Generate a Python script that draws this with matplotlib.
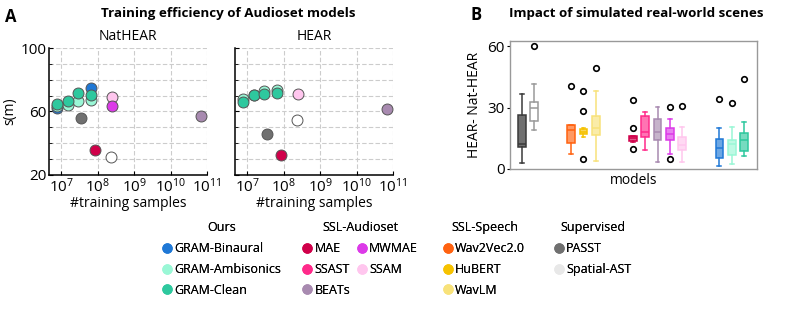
import numpy as np
import matplotlib
matplotlib.use("Agg")
import matplotlib.pyplot as plt
from matplotlib.lines import Line2D
from matplotlib.ticker import LogLocator, MultipleLocator, FixedLocator, NullFormatter

plt.rcParams["font.family"] = ["Open Sans", "DejaVu Sans"]

# ---- colours ----
COLORS = {
    "GRAM-Binaural": "#1f78d6",
    "GRAM-Ambisonics": "#9af7d6",
    "GRAM-Clean": "#2ec89e",
    "MAE": "#d0004a",
    "MWMAE": "#dc3ae8",
    "SSAST": "#ff2a8a",
    "SSAM": "#ffc6ee",
    "BEATs": "#a88ab0",
    "Wav2Vec2.0": "#ff6210",
    "HuBERT": "#f6c200",
    "WavLM": "#f8e27a",
    "PASST": "#707070",
    "Spatial-AST": "#e8e8e8",
}

# ---- panel A data: (#training samples, score) ----
gram_samples = [7.6e6, 1.5e7, 2.8e7, 6.5e7]
binaural_nat = [62.0, np.nan, np.nan, 75.0]
ambisonics_nat = [63.5, 64.2, 66.9, 67.3]
clean_nat = [64.6, 66.7, 71.5, 70.4]
binaural_hear = [np.nan, np.nan, np.nan, np.nan]
ambisonics_hear = [67.7, 70.6, 73.2, 73.6]
clean_hear = [66.2, 70.4, 70.9, 71.5]

other_models = ["PASST", "MAE", "SSAM", "MWMAE", "Spatial-AST", "BEATs"]
other_samples = [3.4e7, 8.5e7, 2.4e8, 2.4e8, 2.3e8, 7.0e10]
other_nat = [56.2, 35.8, 69.4, 63.7, 31.2, 57.2]
other_hear = [46.1, 32.9, 71.0, np.nan, 54.7, 61.4]

# ---- panel B data: HEAR - NatHEAR box statistics ----
box_models = ["PASST", "Spatial-AST", "Wav2Vec2.0", "HuBERT", "WavLM",
              "MAE", "SSAST", "BEATs", "MWMAE", "SSAM",
              "GRAM-Binaural", "GRAM-Ambisonics", "GRAM-Clean"]
box_pos = [1, 2, 5, 6, 7, 10, 11, 12, 13, 14, 17, 18, 19]
box_whislo = [2.9, 19.1, 7.3, 15.4, 3.7, 13.4, 9.4, 3.5, 7.3, 3.2, 1.6, 2.6, 6.5]
box_q1 = [10.7, 23.4, 12.9, 17.0, 16.5, 13.7, 15.5, 14.1, 14.1, 9.4, 5.3, 6.6, 9.0]
box_med = [12.3, 29.6, 19.1, 18.3, 20.2, 15.0, 17.9, 17.9, 17.0, 11.5, 10.2, 12.1, 14.1]
box_q3 = [26.2, 32.8, 21.7, 19.4, 25.7, 16.2, 25.9, 24.4, 19.9, 15.5, 14.6, 14.1, 17.8]
box_whishi = [36.7, 41.7, 21.7, 19.8, 38.2, 16.2, 28.0, 30.4, 24.3, 20.5, 20.0, 20.5, 23.1]
box_fliers = [[], [59.9], [40.4], [38.2, 28.2, 4.9], [49.3],
              [33.5, 20.0, 9.9], [], [], [30.1, 5.0], [31.0],
              [34.0], [32.0], [43.8]]

# ---- legend groups ----
legend_groups = [
    ("Ours", ["GRAM-Binaural", "GRAM-Ambisonics", "GRAM-Clean"], 1),
    ("SSL-Audioset", ["MAE", "SSAST", "BEATs", "MWMAE", "SSAM"], 2),
    ("SSL-Speech", ["Wav2Vec2.0", "HuBERT", "WavLM"], 1),
    ("Supervised", ["PASST", "Spatial-AST"], 1),
]
legend_x = [0.2055, 0.383, 0.5605, 0.7005]

fig = plt.figure(figsize=(7.92, 3.11), dpi=100)

W, H = 792, 311


def px_axes(x0, y0, x1, y1):
    return fig.add_axes([x0 / W, 1 - y1 / H, (x1 - x0) / W, (y1 - y0) / H])


ax_nat = px_axes(49, 48, 207, 175)
ax_hear = px_axes(235, 48, 393, 175)
ax_b = px_axes(510, 41, 757, 169)

edge = "#555555"
for ax, bin_y, amb_y, cln_y, oth_y, name in [
    (ax_nat, binaural_nat, ambisonics_nat, clean_nat, other_nat, "NatHEAR"),
    (ax_hear, binaural_hear, ambisonics_hear, clean_hear, other_hear, "HEAR"),
]:
    ax.set_xscale("log")
    ax.set_xlim(4.6e6, 1e11)
    ax.set_ylim(20, 100)
    ax.xaxis.set_major_locator(FixedLocator([1e7, 1e8, 1e9, 1e10, 1e11]))
    ax.xaxis.set_minor_locator(LogLocator(base=10, subs=np.arange(2, 10)))
    ax.xaxis.set_minor_formatter(NullFormatter())
    ax.yaxis.set_major_locator(FixedLocator([20, 60, 100]))
    ax.yaxis.set_minor_locator(MultipleLocator(10))
    ax.grid(True, which="major", axis="both", color="#cccccc", ls=(0, (4, 2)), lw=0.8)
    ax.grid(True, which="minor", axis="y", color="#cccccc", ls=(0, (4, 2)), lw=0.8)
    ax.grid(True, which="minor", axis="x", color="#cfcfcf", ls=(0, (1, 1.5)), lw=0.7)
    ax.set_axisbelow(True)
    for s in ("top", "right"):
        ax.spines[s].set_visible(False)
    ax.spines["left"].set_linewidth(1.1)
    ax.spines["bottom"].set_linewidth(1.1)
    ax.tick_params(which="both", direction="in", length=3, labelsize=11, pad=2)
    ax.tick_params(which="minor", length=2)
    ax.set_title(name, fontsize=10, pad=6)
    ax.set_xlabel("#training samples", fontsize=10, labelpad=0)

    kw = dict(s=62, edgecolors=edge, linewidths=0.7, zorder=3)
    ax.scatter(gram_samples, bin_y, color=COLORS["GRAM-Binaural"], **kw)
    ax.scatter(gram_samples, amb_y, color=COLORS["GRAM-Ambisonics"], **kw)
    ax.scatter(gram_samples, cln_y, color=COLORS["GRAM-Clean"], **kw)
    for m, xs, ys in zip(other_models, other_samples, oth_y):
        fc = "white" if m == "Spatial-AST" else COLORS[m]
        ax.scatter([xs], [ys], color=fc, **kw)

ax_hear.set_yticklabels([])
ax_nat.set_ylabel("s(m)", fontsize=10, labelpad=2)

# ---- panel B ----
stats = []
for m, lo, q1, med, q3, hi, fl in zip(box_models, box_whislo, box_q1, box_med,
                                        box_q3, box_whishi, box_fliers):
    stats.append(dict(label=m, whislo=lo, q1=q1, med=med, q3=q3, whishi=hi, fliers=fl))

for st, pos in zip(stats, box_pos):
    m = st["label"]
    c = COLORS[m]
    if m == "PASST":
        ec, fc = "#3a3a3a", "#707070"
    elif m == "Spatial-AST":
        ec, fc = "#9a9a9a", "white"
    else:
        ec, fc = c, matplotlib.colors.to_rgba(c, 0.65)
    ax_b.bxp([st], positions=[pos], widths=0.62, patch_artist=True,
             boxprops=dict(facecolor=fc, edgecolor=ec, lw=1.1),
             medianprops=dict(color=ec, lw=1.1),
             whiskerprops=dict(color=ec, lw=1.1),
             capprops=dict(color=ec, lw=1.1),
             flierprops=dict(marker="o", markersize=4, markerfacecolor="none",
                             markeredgecolor="black", markeredgewidth=1.2),
             capwidths=0.3)

ax_b.set_xlim(0.05, 20.05)
ax_b.set_ylim(0, 62.5)
ax_b.set_xticks([])
ax_b.set_yticks([0, 30, 60])
ax_b.tick_params(axis="y", direction="out", length=2, labelsize=11, pad=2)
for s in ax_b.spines.values():
    s.set_color("#999999")
    s.set_linewidth(1.0)
ax_b.set_xlabel("models", fontsize=10, labelpad=3)
ax_b.set_ylabel("HEAR- Nat-HEAR", fontsize=10, labelpad=4)

# ---- titles and panel letters ----
fig.text(5 / W, 1 - 17 / H, "A", fontsize=12, fontweight="bold", va="center")
fig.text(470 / W, 1 - 15 / H, "B", fontsize=12, fontweight="bold", va="center")
fig.text(228 / W, 1 - 14 / H, "Training efficiency of Audioset models",
         fontsize=9.6, fontweight="bold", ha="center", va="center")
fig.text(636 / W, 1 - 14 / H, "Impact of simulated real-world scenes",
         fontsize=9.6, fontweight="bold", ha="center", va="center")

# ---- legends ----
for (title, names, ncol), lx in zip(legend_groups, legend_x):
    handles = [Line2D([], [], ls="none", marker="o", markersize=7.5,
                      markerfacecolor=COLORS[n], markeredgecolor="none") for n in names]
    leg = fig.legend(handles, names, title=title, ncol=ncol, loc="upper left",
                     bbox_to_anchor=(lx, 1 - 221 / H), frameon=False,
                     fontsize=9, title_fontsize=9, handlelength=0.6,
                     handletextpad=0.3, columnspacing=0.6, labelspacing=0.62,
                     borderpad=0, borderaxespad=0)
    leg._legend_box.sep = 6
    fig.add_artist(leg)

fig.savefig("out.png", dpi=100)
